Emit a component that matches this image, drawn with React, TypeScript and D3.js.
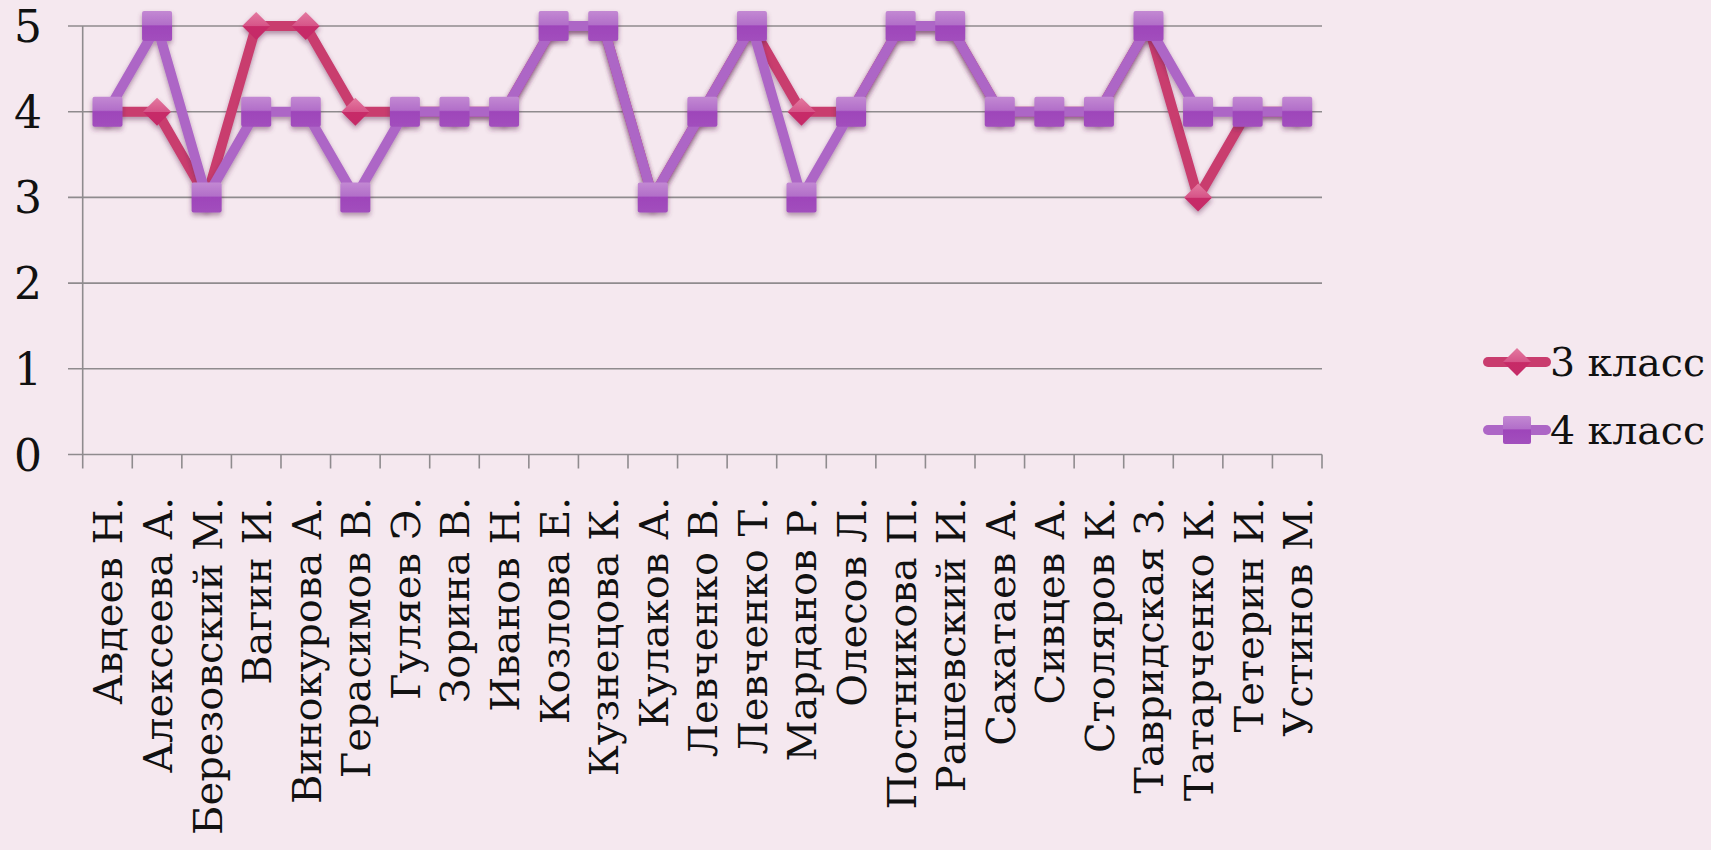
import React from "react";
import * as d3 from "d3";

const students = [
  "Авдеев Н.", "Алексеева А.", "Березовский М.", "Вагин И.", "Винокурова А.",
  "Герасимов В.", "Гуляев Э.", "Зорина В.", "Иванов Н.", "Козлова Е.",
  "Кузнецова К.", "Кулаков А.", "Левченко В.", "Левченко Т.", "Марданов Р.",
  "Олесов Л.", "Постникова П.", "Рашевский И.", "Сахатаев А.", "Сивцев А.",
  "Столяров К.", "Тавридская З.", "Татарченко К.", "Тетерин И.", "Устинов М.",
];
const grade3 = [4, 4, 3, 5, 5, 4, 4, 4, 4, 5, 5, 3, 4, 5, 4, 4, 5, 5, 4, 4, 4, 5, 3, 4, 4];
const grade4 = [4, 5, 3, 4, 4, 3, 4, 4, 4, 5, 5, 3, 4, 5, 3, 4, 5, 5, 4, 4, 4, 5, 4, 4, 4];
const yTicks = [0, 1, 2, 3, 4, 5];
const seriesNames = ["3 класс", "4 класс"];

const W = 1711, H = 850;
const left = 82.7, right = 1322, top = 26, bottom = 454.5;
const FONT = "DejaVu Serif, Liberation Serif, serif";

export default function App() {
  const x = d3.scaleBand<string>().domain(students).range([left, right]);
  const y = d3.scaleLinear().domain([0, 5]).range([bottom, top]);
  const line = d3
    .line<number>()
    .x((_, i) => (x(students[i]) as number) + x.bandwidth() / 2)
    .y((d) => y(d));
  const cx = (i: number) => (x(students[i]) as number) + x.bandwidth() / 2;
  const ms = 14;
  const diamond = (px: number, py: number) =>
    `M${px},${py - ms} L${px + ms},${py} L${px},${py + ms} L${px - ms},${py} Z`;
  const tickXs = d3.range(students.length + 1).map((i) => left + i * x.step());

  return (
    <svg width={W} height={H} style={{ position: "absolute", left: 0, top: 0, display: "block" }}>
      <defs>
        <linearGradient id="gSq" x1="0" y1="0" x2="0" y2="1">
          <stop offset="0" stopColor="#c389d3" />
          <stop offset="0.45" stopColor="#b26fc9" />
          <stop offset="0.5" stopColor="#9e45ba" />
          <stop offset="1" stopColor="#a24fbd" />
        </linearGradient>
        <linearGradient id="gDi" x1="0" y1="0" x2="0" y2="1">
          <stop offset="0" stopColor="#e47aa0" />
          <stop offset="0.5" stopColor="#d65488" />
          <stop offset="0.52" stopColor="#c72a67" />
          <stop offset="1" stopColor="#c52c68" />
        </linearGradient>
        <filter id="sh" x="-50%" y="-50%" width="200%" height="200%">
          <feDropShadow dx="0" dy="3" stdDeviation="2.5" floodColor="#5a2050" floodOpacity="0.45" />
        </filter>
      </defs>
      <rect x={0} y={0} width={W} height={H} fill="#f5e8ef" />
      {yTicks.map((t) => (
        <line key={"g" + t} x1={68} x2={right} y1={y(t)} y2={y(t)} stroke="#8f8b8e" strokeWidth={1.6} />
      ))}
      <line x1={left} x2={left} y1={top} y2={bottom} stroke="#8f8b8e" strokeWidth={1.6} />
      {tickXs.map((tx, i) => (
        <line key={"t" + i} x1={tx} x2={tx} y1={bottom} y2={bottom + 14} stroke="#8f8b8e" strokeWidth={1.6} />
      ))}
      {yTicks.map((t) => (
        <text key={"yl" + t} x={28} y={y(t) + 16} textAnchor="middle" fontFamily={FONT} fontSize={44} fill="#111">
          {t}
        </text>
      ))}
      {students.map((s, i) => (
        <text
          key={"xl" + i}
          transform={`translate(${cx(i) + 15},${497}) rotate(-90)`}
          textAnchor="end"
          fontFamily={FONT}
          fontSize={40}
          fill="#111"
        >
          {s}
        </text>
      ))}
      <g filter="url(#sh)">
        <path d={line(grade3) as string} fill="none" stroke="#c93c6e" strokeWidth={10} strokeLinejoin="round" />
        {grade3.map((v, i) => (
          <path key={"d" + i} d={diamond(cx(i), y(v))} fill="url(#gDi)" />
        ))}
      </g>
      <g filter="url(#sh)">
        <path d={line(grade4) as string} fill="none" stroke="#ad66c6" strokeWidth={10} strokeLinejoin="round" />
        {grade4.map((v, i) => (
          <rect key={"s" + i} x={cx(i) - 15} y={y(v) - 15} width={30} height={30} rx={2} fill="url(#gSq)" />
        ))}
      </g>
      <g>
        <line x1={1488} x2={1546} y1={362} y2={362} stroke="#c93c6e" strokeWidth={10} strokeLinecap="round" />
        <path d={`M1517,348 L1531,362 L1517,376 L1503,362 Z`} fill="url(#gDi)" />
        <text x={1550} y={376} fontFamily={FONT} fontSize={40} textLength={155} lengthAdjust="spacingAndGlyphs" fill="#111">{seriesNames[0]}</text>
        <line x1={1488} x2={1546} y1={430} y2={430} stroke="#ad66c6" strokeWidth={10} strokeLinecap="round" />
        <rect x={1503} y={416} width={28} height={28} rx={2} fill="url(#gSq)" />
        <text x={1550} y={444} fontFamily={FONT} fontSize={40} textLength={155} lengthAdjust="spacingAndGlyphs" fill="#111">{seriesNames[1]}</text>
      </g>
    </svg>
  );
}
